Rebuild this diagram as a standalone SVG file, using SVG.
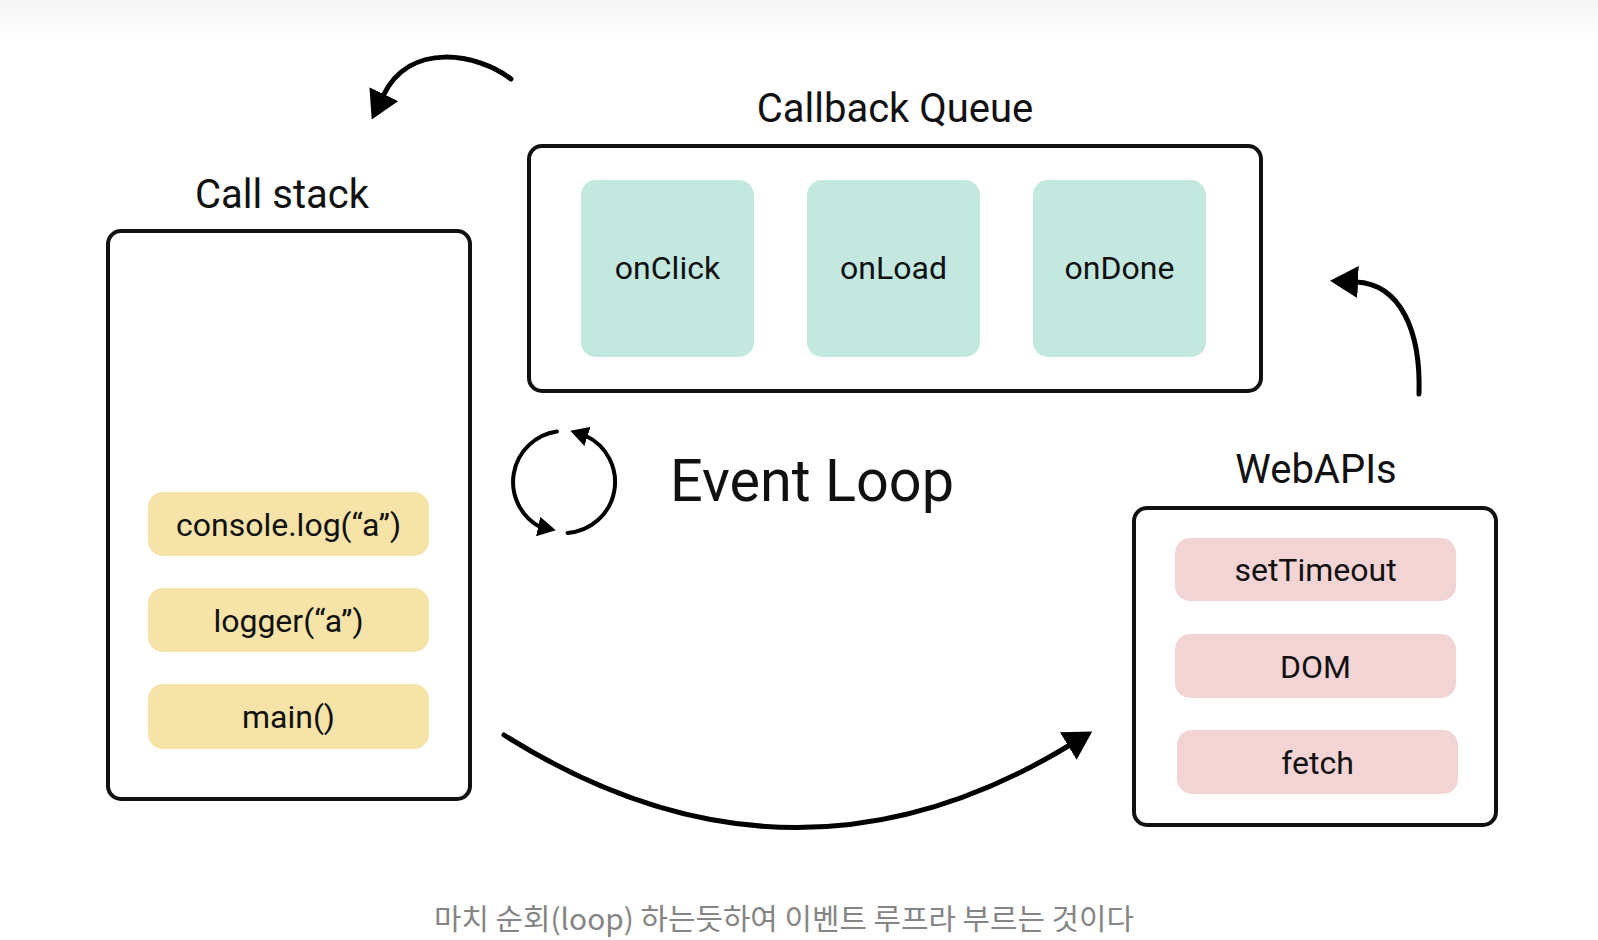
<svg xmlns="http://www.w3.org/2000/svg" width="1598" height="940" viewBox="0 0 1598 940">
  <style>
    .title { font-family: Roboto, "Liberation Sans", sans-serif; font-size: 40px; fill: #111; text-anchor: middle; }
    .item { font-family: Roboto, "Liberation Sans", sans-serif; font-size: 32px; fill: #111; text-anchor: middle; }
    .qitem { font-family: Roboto, "Liberation Sans", sans-serif; font-size: 32px; fill: #111; text-anchor: middle; }
    .frame { fill: #ffffff; stroke: #111; stroke-width: 4; }
    .yellow { fill: #f6e3a8; }
    .teal { fill: #c3e8df; }
    .pink { fill: #f2d4d4; }
    .conn { fill: none; stroke: #000; stroke-width: 5; stroke-linecap: round; }
    .cyc { fill: none; stroke: #000; stroke-width: 4; stroke-linecap: round; }
    .caption { font-family: "Noto Sans CJK KR", "Noto Sans", sans-serif; font-size: 29px; font-weight: 400; fill: #858585; text-anchor: middle; }
  </style>
  <defs>
    <linearGradient id="topfade" x1="0" y1="0" x2="0" y2="1">
      <stop offset="0" stop-color="#f6f6f6"/>
      <stop offset="1" stop-color="#ffffff"/>
    </linearGradient>
    <marker id="bigArrow" markerUnits="userSpaceOnUse" viewBox="0 0 28 32" markerWidth="28" markerHeight="32" refX="2" refY="16" orient="auto">
      <path d="M0,0 L28,16 L0,32 Z" fill="#000"/>
    </marker>
    <marker id="smallArrowBottom" markerUnits="userSpaceOnUse" viewBox="0 0 18 20" markerWidth="18" markerHeight="20" refX="2" refY="10" orient="12">
      <path d="M0,0 L18,10 L0,20 Z" fill="#000"/>
    </marker>
    <marker id="smallArrowTop" markerUnits="userSpaceOnUse" viewBox="0 0 18 20" markerWidth="18" markerHeight="20" refX="2" refY="10" orient="198">
      <path d="M0,0 L18,10 L0,20 Z" fill="#000"/>
    </marker>
  </defs>

  <rect x="0" y="0" width="1598" height="940" fill="#ffffff"/>
  <rect x="0" y="0" width="1598" height="45" fill="url(#topfade)"/>

  <g id="call-stack">
    <text class="title" x="282" y="208">Call stack</text>
    <rect class="frame" x="108" y="231" width="362" height="568" rx="13"/>
    <g id="cs-console">
      <rect class="yellow" x="148" y="492" width="281" height="64" rx="15"/>
      <text class="item" x="288.5" y="536">console.log(“a”)</text>
    </g>
    <g id="cs-logger">
      <rect class="yellow" x="148" y="588" width="281" height="64" rx="15"/>
      <text class="item" x="288.5" y="632">logger(“a”)</text>
    </g>
    <g id="cs-main">
      <rect class="yellow" x="148" y="684" width="281" height="65" rx="15"/>
      <text class="item" x="288.5" y="728">main()</text>
    </g>
  </g>

  <g id="callback-queue">
    <text class="title" x="895" y="122">Callback Queue</text>
    <rect class="frame" x="529" y="146" width="732" height="245" rx="13"/>
    <g id="cq-onclick">
      <rect class="teal" x="581" y="180" width="173" height="177" rx="15"/>
      <text class="qitem" x="667.5" y="279">onClick</text>
    </g>
    <g id="cq-onload">
      <rect class="teal" x="807" y="180" width="173" height="177" rx="15"/>
      <text class="qitem" x="893.5" y="279">onLoad</text>
    </g>
    <g id="cq-ondone">
      <rect class="teal" x="1033" y="180" width="173" height="177" rx="15"/>
      <text class="qitem" x="1119.5" y="279">onDone</text>
    </g>
  </g>

  <g id="web-apis">
    <text class="title" x="1316" y="483">WebAPIs</text>
    <rect class="frame" x="1134" y="508" width="362" height="317" rx="13"/>
    <g id="wa-settimeout">
      <rect class="pink" x="1175" y="538" width="281" height="63" rx="15"/>
      <text class="item" x="1315.5" y="581">setTimeout</text>
    </g>
    <g id="wa-dom">
      <rect class="pink" x="1175" y="634" width="281" height="64" rx="15"/>
      <text class="item" x="1315.5" y="678">DOM</text>
    </g>
    <g id="wa-fetch">
      <rect class="pink" x="1177" y="730" width="281" height="64" rx="15"/>
      <text class="item" x="1317.5" y="774">fetch</text>
    </g>
  </g>

  <g id="event-loop">
    <path class="cyc" d="M 556.9 431.5 A 51 51 0 0 0 540.1 527.0" marker-end="url(#smallArrowBottom)"/>
    <path class="cyc" d="M 567.6 532.9 A 51 51 0 0 0 585.6 435.8" marker-end="url(#smallArrowTop)"/>
    <text x="670" y="501" font-family="Roboto, 'Liberation Sans', sans-serif" font-size="59" fill="#111" textLength="284" lengthAdjust="spacingAndGlyphs">Event Loop</text>
  </g>

  <g id="connectors">
    <path class="conn" d="M 511 79 C 478 54, 410 40, 383 96" marker-end="url(#bigArrow)"/>
    <path class="conn" d="M 1419 394 C 1421 330, 1400 284, 1356 282" marker-end="url(#bigArrow)"/>
    <path class="conn" d="M 504 735 Q 790 915 1070 745" marker-end="url(#bigArrow)"/>
  </g>

  <text class="caption" x="784" y="930" textLength="700" lengthAdjust="spacingAndGlyphs">마치 순회(loop) 하는듯하여 이벤트 루프라 부르는 것이다</text>
</svg>
